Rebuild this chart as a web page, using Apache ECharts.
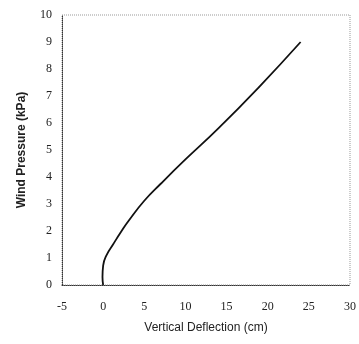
<!DOCTYPE html>
<html>
<head>
<meta charset="utf-8">
<script src="https://cdn.jsdelivr.net/npm/echarts@6/dist/echarts.min.js"></script>
<style>
  html, body { margin: 0; padding: 0; background: #fff; }
  #chart { width: 359px; height: 344px; }
</style>
</head>
<body>
<div id="chart"></div>
<script>
// deflection (cm) vs wind pressure (kPa)
const deflection = [0, -0.08, 0, 0.4, 1.2, 2.2, 3.1, 5, 7, 10, 14, 19, 24];
const pressure = [0, 0.3, 0.72, 1.1, 1.5, 1.98, 2.38, 3.12, 3.75, 4.65, 5.8, 7.35, 9];

const xTicks = { min: -5, max: 30, interval: 5 };
const yTicks = { min: 0, max: 10, interval: 1 };

const chart = echarts.init(document.getElementById('chart'));

const serif = 'Liberation Serif';
const sans = 'Liberation Sans';

chart.setOption({
  animation: false,
  grid: {
    left: 62,
    right: 9,
    top: 15,
    bottom: 59,
    show: true,
    borderColor: '#999',
    borderWidth: 1,
    borderType: 'dotted'
  },
  xAxis: {
    type: 'value',
    ...xTicks,
    name: 'Vertical Deflection (cm)',
    nameLocation: 'middle',
    nameGap: 37,
    nameTextStyle: { fontFamily: sans, fontSize: 12, color: '#222' },
    axisLine: { show: true, onZero: false, lineStyle: { color: '#333', type: 'dotted' } },
    axisTick: { show: false },
    splitLine: { show: false },
    axisLabel: { margin: 16, fontFamily: serif, fontSize: 12, color: '#222' }
  },
  yAxis: {
    type: 'value',
    ...yTicks,
    name: 'Wind Pressure (kPa)',
    nameLocation: 'middle',
    nameGap: 34,
    nameTextStyle: { fontFamily: sans, fontSize: 12, fontWeight: 'bold', color: '#222' },
    axisLine: { show: true, onZero: false, lineStyle: { color: '#333', type: 'dotted' } },
    axisTick: { show: false },
    splitLine: { show: false },
    axisLabel: { margin: 10, fontFamily: serif, fontSize: 12, color: '#222' }
  },
  series: [{
    type: 'line',
    data: deflection.map((d, i) => [d, pressure[i]]),
    smooth: 0.5,
    showSymbol: false,
    lineStyle: { color: '#111', width: 1.8 }
  }]
});
</script>
</body>
</html>
